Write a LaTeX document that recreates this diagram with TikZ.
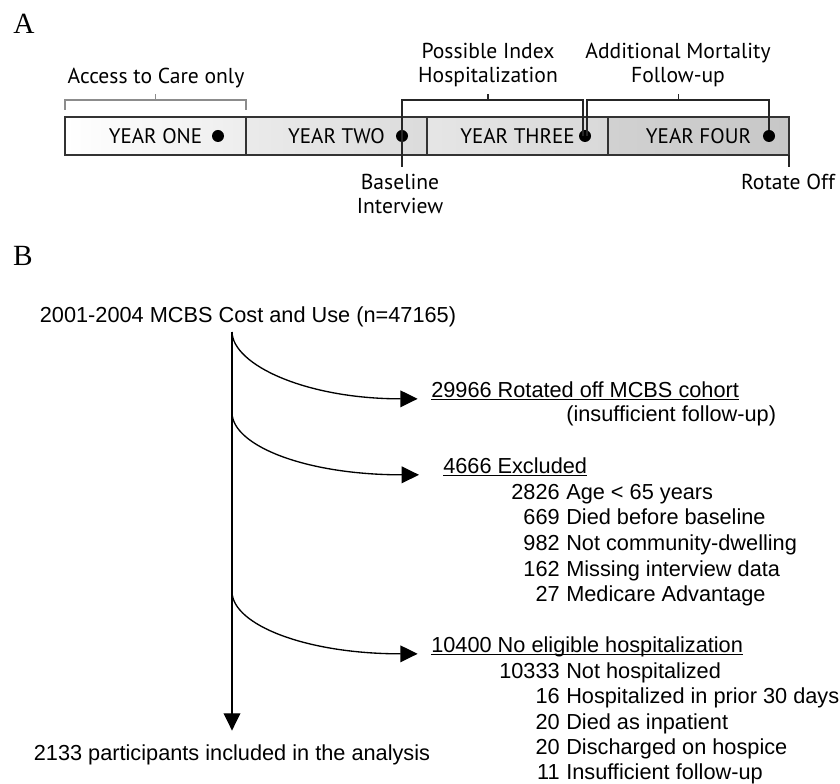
\documentclass[tikz,border=0pt]{standalone}
\usepackage{fontspec}
\setmainfont{Liberation Sans}
\newfontfamily\tlfont{PT Sans}
\newfontfamily\panelfont{Liberation Serif}
\usetikzlibrary{arrows.meta,positioning,calc}
\tikzset{
  year/.style={draw=black!80,line width=1.1pt,minimum width=135.75pt,minimum height=28.5pt,inner sep=0pt,outer sep=0pt,font=\tlfont\fontsize{15.8}{17}\selectfont},
  dot/.style={circle,fill=black,minimum size=9pt,inner sep=0pt},
  brk/.style={line width=0.9pt,draw=black!85},
  accbrk/.style={line width=0.9pt,draw=black!45},
  tl/.style={font=\tlfont\fontsize{16.2}{18}\selectfont,align=center,inner sep=0pt},
  panel/.style={font=\panelfont\fontsize{22}{24}\selectfont,inner sep=0pt},
  txt/.style={font=\fontsize{16.3}{19}\selectfont,inner sep=0pt},
  flow/.style={line width=1pt,-{Triangle[length=13pt,width=12.5pt]}}
}
\newcommand{\ul}[1]{\underline{\smash{#1}}}

\begin{document}
\begin{tikzpicture}[x=0.75pt,y=-0.75pt]
    \useasboundingbox (0,0) rectangle (840,784);

    % A: timeline
    \node[panel] (pa) at (24,23.5) {A};
    \node[year,left color=white,right color=black!7] (y1) at (155.5,136) {YEAR ONE};
    \node[year,left color=black!8,right color=black!14,right=0pt of y1] (y2) {YEAR TWO};
    \node[year,left color=black!10,right color=black!15,right=0pt of y2] (y3) {YEAR THREE};
    \node[year,left color=black!18,right color=black!22,right=0pt of y3] (y4) {YEAR FOUR};

    \node[dot] (d1) at (218,136) {};
    \node[dot] (d2) at (402,136) {};
    \node[dot] (d3) at (585,136) {};
    \node[dot] (d4) at (769,136) {};

    \coordinate (acc) at (155.5,100);
    \coordinate (idx) at (488,100);
    \coordinate (mort) at (678.5,100);
    \coordinate (base) at (402,167);

    \draw[accbrk] ($(y1.north west)+(0,-7)$) |- (acc) -| ($(y1.north east)+(0,-7)$);
    \draw[accbrk] (acc) -- ++(0,-6);
    \draw[brk] (base) |- (idx) -| ([xshift=-1.5pt]d3.center);
    \draw[brk] (idx) -- ++(0,-6);
    \draw[brk] ([xshift=1.5pt]d3.center) |- (mort) -| (d4);
    \draw[brk] (mort) -- ++(0,-6);
    \draw[brk] (y4.south east) -- ++(0,12);

    \node[tl] (acclbl) at (156,78) {Access to Care only};
    \node[tl] (idxlbl) at (488,65) {Possible Index\\Hospitalization};
    \node[tl] (mortlbl) at (678,65) {Additional Mortality\\Follow-up};
    \node[tl] (baselbl) at (400,194) {Baseline\\Interview};
    \node[tl] (rotlbl) at (788,182) {Rotate Off};

    % B: flow of participants
    \node[panel] (pb) at (23,255.5) {B};
    \node[txt] (src) at (248,317) {2001-2004 MCBS Cost and Use (n=47165)};
    \node[txt] (incl) at (232,755) {2133 participants included in the analysis};
    \coordinate (b1) at (232,332);
    \coordinate (b2) at (232,413);
    \coordinate (b3) at (232,592);

    \node[txt,anchor=base west] (off) at (431,397.5) {\ul{29966 Rotated off MCBS cohort}};
    \node[txt,anchor=base west] (offnote) at (566,421.5) {(insufficient follow-up)};
    \node[txt,anchor=base west] (excl) at (443,473.5) {\ul{4666 Excluded}};
    \node[txt,anchor=base west] (nohosp) at (431,652.5) {\ul{10400 No eligible hospitalization}};

    \foreach \n/\t [count=\i] in {2826/Age < 65 years,669/Died before baseline,982/Not community-dwelling,162/Missing interview data,27/Medicare Advantage}{
        \node[txt,anchor=base east] (exn\i) at (560,{499.5+25.5*(\i-1)}) {\n};
        \node[txt,anchor=base west] (ext\i) at (566,{499.5+25.5*(\i-1)}) {\t};
    }
    \foreach \n/\t [count=\i] in {10333/Not hospitalized,16/Hospitalized in prior 30 days,20/Died as inpatient,20/Discharged on hospice,11/Insufficient follow-up}{
        \node[txt,anchor=base east] (hn\i) at (560,{678.5+25.25*(\i-1)}) {\n};
        \node[txt,anchor=base west] (ht\i) at (566,{678.5+25.25*(\i-1)}) {\t};
    }

    \draw[flow,shorten >=10.5pt] (b1) -- (incl);
    \draw[flow,shorten >=10pt] (b1) .. controls +(1,33) and +(-125,0) .. (off.west);
    \draw[flow,shorten >=18pt] (b2) .. controls +(1,33) and +(-137,0) .. (excl.west);
    \draw[flow,shorten >=10pt] (b3) .. controls +(1,33) and +(-125,0) .. (nohosp.west);
\end{tikzpicture}
\end{document}
